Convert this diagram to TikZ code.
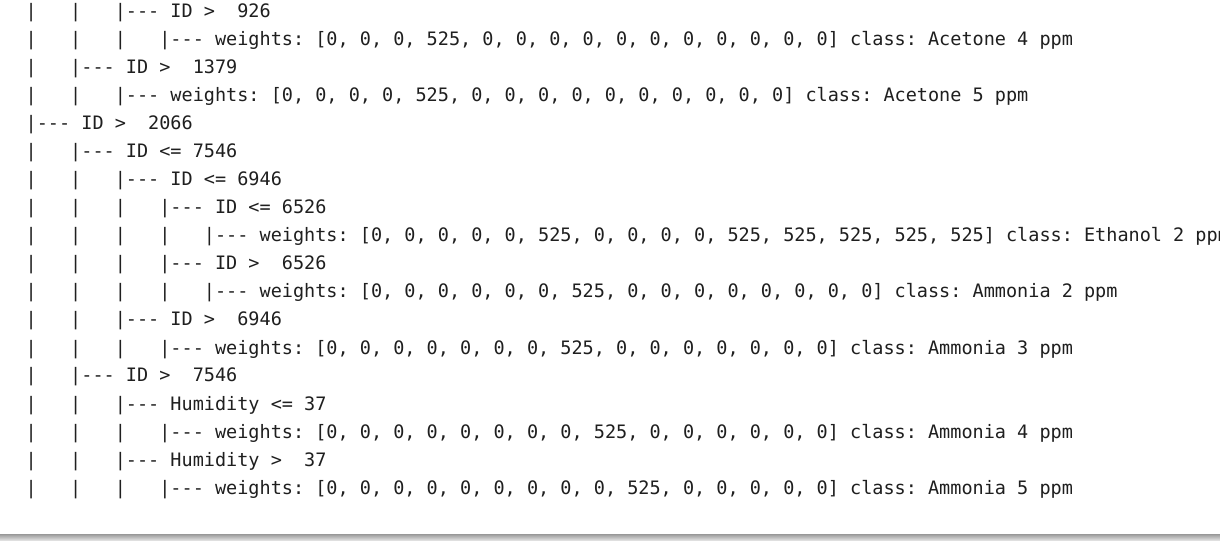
\documentclass[tikz,border=0pt]{standalone}
\usepackage{fontspec}
\setmonofont{DejaVu Sans Mono}
\begin{document}
\begin{tikzpicture}[x=0.75pt, y=-0.75pt,
  treeline/.style={anchor=base west, inner sep=0pt, text=black!88,
    font=\ttfamily\fontsize{13.88}{16}\selectfont}]
  \useasboundingbox (0,0) rectangle (1220,541);
  \fill[white] (0,0) rectangle (1220,541);
  \shade[top color=black!38, bottom color=black!8] (0,534.5) rectangle (1220,541);
  \foreach \txt [count=\i] in {
    {|~~~|~~~|--- ID >~~926},
    {|~~~|~~~|~~~|--- weights: [0, 0, 0, 525, 0, 0, 0, 0, 0, 0, 0, 0, 0, 0, 0] class: Acetone 4 ppm},
    {|~~~|--- ID >~~1379},
    {|~~~|~~~|--- weights: [0, 0, 0, 0, 525, 0, 0, 0, 0, 0, 0, 0, 0, 0, 0] class: Acetone 5 ppm},
    {|--- ID >~~2066},
    {|~~~|--- ID <= 7546},
    {|~~~|~~~|--- ID <= 6946},
    {|~~~|~~~|~~~|--- ID <= 6526},
    {|~~~|~~~|~~~|~~~|--- weights: [0, 0, 0, 0, 0, 525, 0, 0, 0, 0, 525, 525, 525, 525, 525] class: Ethanol 2 ppm},
    {|~~~|~~~|~~~|--- ID >~~6526},
    {|~~~|~~~|~~~|~~~|--- weights: [0, 0, 0, 0, 0, 0, 525, 0, 0, 0, 0, 0, 0, 0, 0] class: Ammonia 2 ppm},
    {|~~~|~~~|--- ID >~~6946},
    {|~~~|~~~|~~~|--- weights: [0, 0, 0, 0, 0, 0, 0, 525, 0, 0, 0, 0, 0, 0, 0] class: Ammonia 3 ppm},
    {|~~~|--- ID >~~7546},
    {|~~~|~~~|--- Humidity <= 37},
    {|~~~|~~~|~~~|--- weights: [0, 0, 0, 0, 0, 0, 0, 0, 525, 0, 0, 0, 0, 0, 0] class: Ammonia 4 ppm},
    {|~~~|~~~|--- Humidity >~~37},
    {|~~~|~~~|~~~|--- weights: [0, 0, 0, 0, 0, 0, 0, 0, 0, 525, 0, 0, 0, 0, 0] class: Ammonia 5 ppm}}
    \node[treeline] (row\i) at (25.4, {18+28*(\i-1)}) {\txt};
\end{tikzpicture}
\end{document}
